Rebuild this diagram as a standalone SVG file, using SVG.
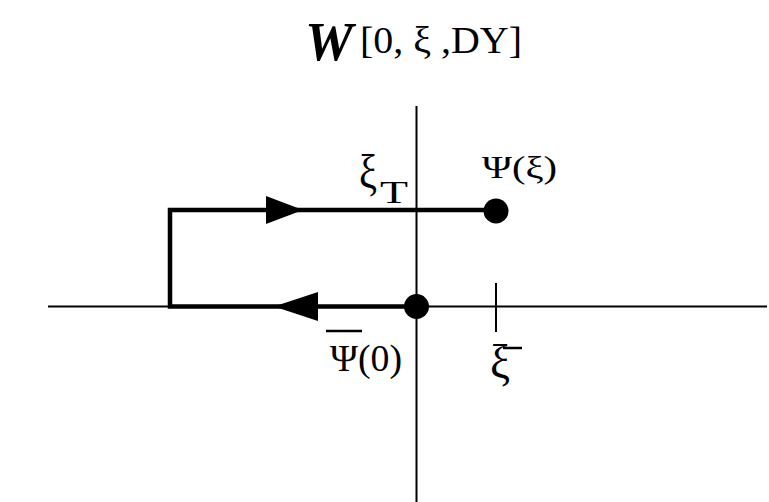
<svg xmlns="http://www.w3.org/2000/svg" width="769" height="502" viewBox="0 0 769 502">
<style>
.t{font-family:"Liberation Serif","DejaVu Serif",serif;fill:#000}
.axis{stroke:#000;stroke-width:2;fill:none}
.path{stroke:#000;stroke-width:4.5;fill:none}
</style>
<rect width="769" height="502" fill="#fff"/>
<g id="title">
<text class="t" x="305" y="60" font-size="54" font-weight="bold" font-style="italic" textLength="48" lengthAdjust="spacingAndGlyphs">W</text>
<text class="t" x="360" y="53" font-size="38" textLength="162" lengthAdjust="spacingAndGlyphs">[0, ξ ,DY]</text>
</g>
<g id="axes">
<line class="axis" x1="48" y1="306.5" x2="767" y2="306.5"/>
<line class="axis" x1="416.5" y1="106" x2="416.5" y2="502"/>
<line class="axis" x1="496" y1="283" x2="496" y2="332"/>
</g>
<g id="connectors">
<polyline class="path" points="496,210 170,210 170,306.5 416,306.5"/>
<path d="M266,196 L303,210 L266,224 Z" fill="#000"/>
<path d="M274,306.5 L318,292 L318,321 Z" fill="#000"/>
</g>
<g id="node-psi-xi">
<circle cx="496" cy="211" r="12.5" fill="#000"/>
<text class="t" x="482" y="178" font-size="32" textLength="75" lengthAdjust="spacingAndGlyphs">Ψ(ξ)</text>
</g>
<g id="node-psi-0">
<circle cx="416.5" cy="306.5" r="12.5" fill="#000"/>
<line x1="326" y1="331" x2="362" y2="331" stroke="#000" stroke-width="2.5"/>
<text class="t" x="330" y="371" font-size="38" textLength="72" lengthAdjust="spacingAndGlyphs">Ψ(0)</text>
</g>
<g id="label-xi-T">
<text class="t" x="359" y="188" font-size="48" textLength="18" lengthAdjust="spacingAndGlyphs">ξ</text>
<text class="t" x="380" y="203" font-size="32" textLength="28" lengthAdjust="spacingAndGlyphs">T</text>
</g>
<g id="label-xi-bar">
<text class="t" x="490" y="378" font-size="48" textLength="20" lengthAdjust="spacingAndGlyphs">ξ</text>
<line x1="503" y1="348" x2="522" y2="348" stroke="#000" stroke-width="2.5"/>
</g>
</svg>
